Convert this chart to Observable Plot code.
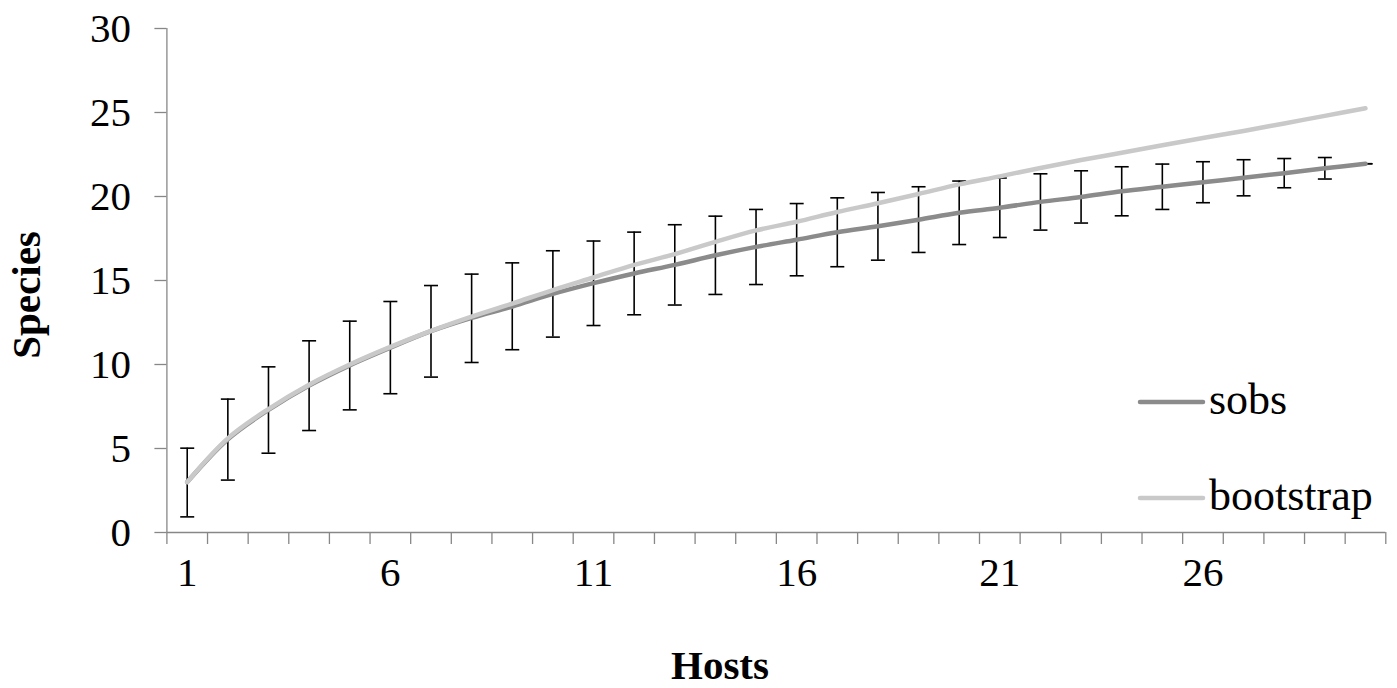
<!DOCTYPE html>
<html><head><meta charset="utf-8">
<script src="https://cdn.jsdelivr.net/npm/d3@7"></script>
<script src="https://cdn.jsdelivr.net/npm/@observablehq/plot@0.6"></script>
<style>body{margin:0;background:#fff}</style>
</head><body><div id="chart"></div>
<script>
// Data
const hosts = [1,2,3,4,5,6,7,8,9,10,11,12,13,14,15,16,17,18,19,20,21,22,23,24,25,26,27,28,29,30];
const sobs = [3.0,5.55,7.3,8.75,9.95,11.0,11.98,12.77,13.45,14.2,14.84,15.42,15.93,16.5,17.0,17.43,17.87,18.23,18.62,19.03,19.33,19.68,19.97,20.31,20.58,20.85,21.11,21.39,21.68,21.95];
const sobsLow = [0.93,3.12,4.72,6.07,7.3,8.26,9.25,10.12,10.88,11.63,12.32,12.96,13.54,14.17,14.76,15.28,15.82,16.21,16.67,17.14,17.56,18.0,18.42,18.85,19.23,19.63,20.04,20.52,21.04,21.95];
const sobsHigh = [5.02,7.94,9.86,11.41,12.58,13.75,14.70,15.38,16.05,16.77,17.35,17.88,18.32,18.83,19.23,19.58,19.92,20.24,20.58,20.92,21.1,21.35,21.53,21.77,21.93,22.07,22.19,22.26,22.32,21.95];
const bootstrap = [3.0,5.6,7.35,8.8,10.0,11.05,12.0,12.85,13.63,14.43,15.18,15.93,16.57,17.3,17.98,18.5,19.08,19.6,20.15,20.72,21.2,21.7,22.17,22.6,23.05,23.48,23.9,24.35,24.8,25.25];
const yTicks = [0,5,10,15,20,25,30];
const xTickLabels = [1,6,11,16,21,26];
const seriesNames = ["sobs","bootstrap"];

const colors = {sobs: "#8b8b8b", bootstrap: "#c9c9c9"};
const axisColor = "#878787";
const font = "'Liberation Serif', serif";

const rows = hosts.map((h, i) => ({host: h, sobs: sobs[i], lo: sobsLow[i], hi: sobsHigh[i], bootstrap: bootstrap[i]}));
const caps = rows.flatMap(d => [{host: d.host, v: d.lo}, {host: d.host, v: d.hi}]);
const boundaries = [...hosts.map(h => h - 0.5), hosts[hosts.length - 1] + 0.5];

const capSymbol = {draw(ctx) { ctx.moveTo(-7, 0); ctx.lineTo(7, 0); }};

const chart = Plot.plot({
  width: 1397,
  height: 688,
  marginLeft: 166.4,
  marginRight: 11.7,
  marginTop: 28,
  marginBottom: 156,
  style: {fontFamily: font, background: "#fff", color: "#000"},
  x: {type: "linear", domain: [0.5, 30.5]},
  y: {domain: [0, 30]},
  marks: [
    Plot.ruleX([0.5], {stroke: axisColor, strokeWidth: 1.3}),
    Plot.ruleY([0], {stroke: axisColor, strokeWidth: 1.3}),
    Plot.axisY({ticks: yTicks, tickSize: 12, tickFormat: () => "", stroke: axisColor, strokeWidth: 1.3, label: null}),
    Plot.axisY({ticks: yTicks, tickSize: 0, tickPadding: 36, fill: "#000", fontSize: 41, label: null}),
    Plot.axisX({ticks: boundaries, tickSize: 12, tickFormat: () => "", stroke: axisColor, strokeWidth: 1.3, label: null}),
    Plot.axisX({ticks: xTickLabels, tickSize: 0, tickPadding: 24, fill: "#000", fontSize: 41, label: null}),
    Plot.ruleX(rows, {x: "host", y1: "lo", y2: "hi", stroke: "#000", strokeWidth: 1.6}),
    Plot.dot(caps, {x: "host", y: "v", symbol: capSymbol, stroke: "#000", strokeWidth: 1.6, fill: "none"}),
    Plot.line(rows, {x: "host", y: "sobs", stroke: colors.sobs, strokeWidth: 4.5, curve: "catmull-rom", strokeLinecap: "round"}),
    Plot.line(rows, {x: "host", y: "bootstrap", stroke: colors.bootstrap, strokeWidth: 4.5, curve: "catmull-rom", strokeLinecap: "round"})
  ]
});

const svg = d3.select(chart);
// axis titles
svg.append("text").attr("x", 720).attr("y", 679).attr("text-anchor", "middle")
  .attr("font-family", font).attr("font-weight", "bold").attr("font-size", 41).attr("fill", "#000").text("Hosts");
svg.append("text").attr("transform", "translate(40,295) rotate(-90)").attr("text-anchor", "middle")
  .attr("font-family", font).attr("font-weight", "bold").attr("font-size", 41).attr("fill", "#000").text("Species");
// legend
const legendY = [402, 498];
seriesNames.forEach((name, i) => {
  const g = svg.append("g");
  g.append("line").attr("x1", 1140).attr("x2", 1203).attr("y1", legendY[i]).attr("y2", legendY[i])
    .attr("stroke", colors[name]).attr("stroke-width", 4.5).attr("stroke-linecap", "round");
  g.append("text").attr("x", 1209).attr("y", legendY[i] + 12).attr("text-anchor", "start").attr("font-family", font)
    .attr("font-size", 44).attr("fill", "#000").text(name);
});

document.getElementById("chart").appendChild(chart);
</script>
</body></html>
